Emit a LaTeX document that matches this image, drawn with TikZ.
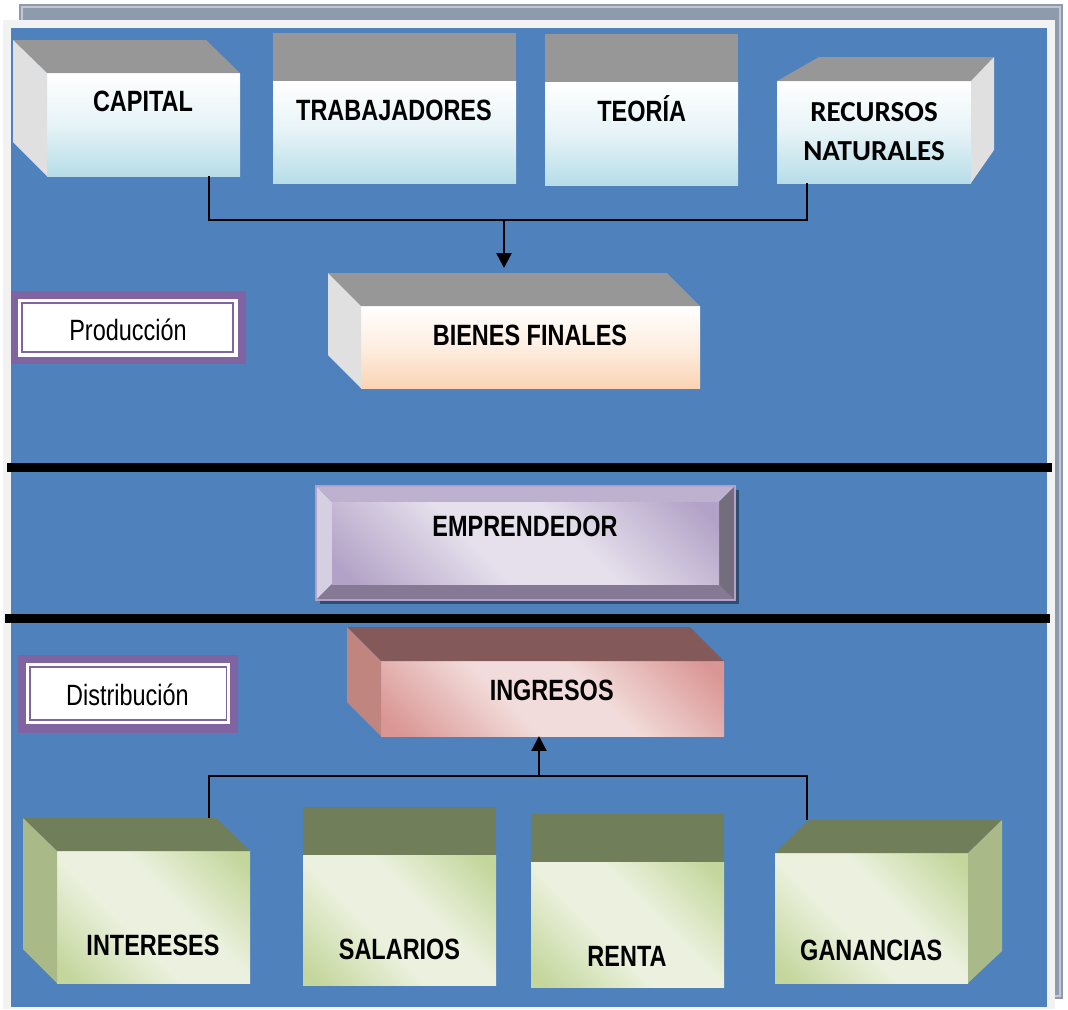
\documentclass[tikz,border=0pt]{standalone}
\usepackage{fontspec}
\setmainfont{Liberation Sans}
\newfontfamily\narrowsans[FakeStretch=0.8]{Liberation Sans}
\newfontfamily\calsans{Carlito}
\usetikzlibrary{arrows.meta}

\definecolor{bgblue}{HTML}{4F81BD}
\definecolor{framegray}{HTML}{F2F2F2}
\definecolor{shadowblue}{HTML}{8E9BAE}
\definecolor{cubetop}{HTML}{979797}
\definecolor{cubeside}{HTML}{E0E0E0}
\definecolor{iceblue}{HTML}{B7DDE8}
\definecolor{peach}{HTML}{FBD4B4}
\definecolor{tagpurple}{HTML}{8064A2}
\definecolor{olivetop}{HTML}{717E5A}
\definecolor{oliveside}{HTML}{A9BA88}
\definecolor{olivelight}{HTML}{EBF1DE}
\definecolor{olivedark}{HTML}{C3D69B}
\definecolor{rosetop}{HTML}{835A59}
\definecolor{roseside}{HTML}{C0857F}
\definecolor{roselight}{HTML}{F2DCDB}
\definecolor{rosedark}{HTML}{DA9694}
\definecolor{lilaclight}{HTML}{E5E0EC}
\definecolor{lilacdark}{HTML}{B3A2C7}

\pgfdeclarehorizontalshading{oliveband}{100bp}{color(0bp)=(olivedark); color(18bp)=(olivedark); color(42bp)=(olivelight); color(58bp)=(olivelight); color(82bp)=(olivedark); color(100bp)=(olivedark)}
\pgfdeclarehorizontalshading{roseband}{100bp}{color(0bp)=(rosedark); color(18bp)=(rosedark); color(42bp)=(roselight); color(58bp)=(roselight); color(82bp)=(rosedark); color(100bp)=(rosedark)}
\pgfdeclarehorizontalshading{lilacband}{100bp}{color(0bp)=(lilacdark); color(18bp)=(lilacdark); color(42bp)=(lilaclight); color(58bp)=(lilaclight); color(82bp)=(lilacdark); color(100bp)=(lilacdark)}

\begin{document}
\begin{tikzpicture}[x=0.02cm,y=-0.02cm,>={Triangle[length=8.5pt,width=8.5pt]},
    face/.style 2 args={inner sep=0pt,outer sep=0pt,minimum width=#1*0.02cm,minimum height=#2*0.02cm},
    icefront/.style={top color=white,bottom color=iceblue,middle color=iceblue!35!white},
    peachfront/.style={top color=white,bottom color=peach,middle color=peach!40!white},
    olivefront/.style={shade,shading=oliveband,shading angle=45},
    rosefront/.style={shade,shading=roseband,shading angle=45},
    lbl/.style={anchor=base,inner sep=0pt,font=\narrowsans\bfseries\fontsize{16.7}{20}\selectfont},
    tag/.style={anchor=base,inner sep=0pt,font=\narrowsans\fontsize{16.7}{20}\selectfont},
    conn/.style={line width=1.3pt},
    sep/.style={line width=5.1pt}]
    \useasboundingbox (0,0) rectangle (1068,1009);

    % frame
    \fill[shadowblue] (19,4) rectangle (1063,999);
    \draw[shadowblue!55!white,line width=0.6pt] (22,7) rectangle (1060,996);
    \fill[framegray] (3,20) rectangle (1055,1009);
    \fill[bgblue] (11,28) rectangle (1047,1007);

    % factores
    \node[face={193}{103},icefront] (capital) at (143.5,124.5) {};
    \fill[cubetop] (capital.north west) -- ++(-34,-33) -- ++(193,0) -- (capital.north east) -- cycle;
    \fill[cubeside] (capital.north west) -- ++(-34,-33) -- ++(0,102) -- (capital.south west) -- cycle;
    \node[lbl] (capitaltext) at (143,111.7) {CAPITAL};

    \node[face={243}{102},icefront] (trabajadores) at (394.5,132) {};
    \fill[cubetop] (trabajadores.north west) rectangle ++(243,-48);
    \node[lbl] (trabajadorestext) at (394,120) {TRABAJADORES};

    \node[face={193}{103},icefront] (teoria) at (641.5,133.5) {};
    \fill[cubetop] (teoria.north west) rectangle ++(193,-48);
    \node[lbl] (teoriatext) at (641.7,121) {TEORÍA};

    \node[face={194}{102},icefront] (recursos) at (874,132) {};
    \fill[cubetop] (recursos.north west) -- ++(42,-24) -- ++(175,0) -- (recursos.north east) -- cycle;
    \fill[cubeside] (recursos.north east) -- ++(23,-24) -- ++(0,93) -- (recursos.south east) -- cycle;
    \node[anchor=base,inner sep=0pt,align=center,font=\calsans\bfseries\fontsize{16.5}{22.5}\selectfont]
        (recursostext) at (874,160.7) {RECURSOS\\NATURALES};

    \node[face={339}{82},peachfront] (bienes) at (530.5,347) {};
    \fill[cubetop] (bienes.north west) -- ++(-33,-33) -- ++(339,0) -- (bienes.north east) -- cycle;
    \fill[cubeside] (bienes.north west) -- ++(-33,-33) -- ++(0,82) -- (bienes.south west) -- cycle;
    \node[lbl] (bienestext) at (530,345) {BIENES FINALES};

    \coordinate (upjoin) at (504,220);
    \coordinate (bienesin) at (504,268);
    \draw[conn] (capital.south -| 209,0) |- (upjoin) -| (recursos.south -| 807,0);
    \draw[conn,->] (upjoin) -- (bienesin);

    \fill[tagpurple] (11,291) rectangle (246,364);
    \fill[white] (18.3,299) rectangle (238.3,357);
    \draw[tagpurple,line width=1pt] (22.2,303) rectangle (233.3,352.2);
    \node[tag] (produccion) at (128,340.7) {Producción};

    % separadores
    \draw[sep] (7,467.5) -- (1052,467.5);
    \draw[sep] (5,618.5) -- (1050,618.5);

    % emprendedor
    \fill[bgblue!60!black] (320,490) rectangle (739,604);
    \fill[lilacdark!85!white] (316,486) -- (735,486) -- (719,502) -- (332,502) -- cycle;
    \fill[lilaclight!70!lilacdark] (316,486) -- (332,502) -- (332,584) -- (316,600) -- cycle;
    \fill[lilacdark!45!black!80] (735,486) -- (735,600) -- (719,584) -- (719,502) -- cycle;
    \fill[lilacdark!75!black] (316,600) -- (332,584) -- (719,584) -- (735,600) -- cycle;
    \node[face={387}{82},shade,shading=lilacband,shading angle=45] (emprendedor) at (525.5,543) {};
    \draw[lilacdark,line width=0.8pt] (316,486) rectangle (735,600);
    \node[lbl] (emprendedortext) at (525,536.7) {EMPRENDEDOR};

    % distribucion
    \node[face={343}{75},rosefront] (ingresos) at (552.5,698.5) {};
    \fill[rosetop] (ingresos.north west) -- ++(-34,-34) -- ++(343,0) -- (ingresos.north east) -- cycle;
    \fill[roseside] (ingresos.north west) -- ++(-34,-34) -- ++(0,75) -- (ingresos.south west) -- cycle;
    \node[lbl] (ingresostext) at (551.7,700) {INGRESOS};

    \fill[tagpurple] (18.3,655) rectangle (237.7,732.7);
    \fill[white] (26,662.7) rectangle (230,724.3);
    \draw[tagpurple,line width=1pt] (30.2,666.8) rectangle (226.5,720.2);
    \node[tag] (distribucion) at (127.5,705) {Distribución};

    \node[face={193}{132},olivefront] (intereses) at (153.5,917) {};
    \fill[olivetop] (intereses.north west) -- ++(-34,-33) -- ++(193,0) -- (intereses.north east) -- cycle;
    \fill[oliveside] (intereses.north west) -- ++(-34,-33) -- ++(0,131) -- (intereses.south west) -- cycle;
    \node[lbl] (interesestext) at (153,955) {INTERESES};

    \node[face={193}{130},olivefront] (salarios) at (399.5,920) {};
    \fill[olivetop] (salarios.north west) rectangle ++(193,-48);
    \node[lbl] (salariostext) at (399.5,959) {SALARIOS};

    \node[face={193}{125},olivefront] (renta) at (627.5,924.5) {};
    \fill[olivetop] (renta.north west) rectangle ++(193,-48);
    \node[lbl] (rentatext) at (627,966.7) {RENTA};

    \node[face={193}{130},olivefront] (ganancias) at (871.5,918) {};
    \fill[olivetop] (ganancias.north west) -- ++(34,-33) -- ++(193,0) -- (ganancias.north east) -- cycle;
    \fill[oliveside] (ganancias.north east) -- ++(34,-33) -- ++(0,131) -- (ganancias.south east) -- cycle;
    \node[lbl] (gananciastext) at (871.3,960) {GANANCIAS};

    \coordinate (downjoin) at (539,776);
    \coordinate (interesesin) at (209,818);
    \coordinate (gananciasin) at (807,820);
    \draw[conn] (interesesin) |- (downjoin) -| (gananciasin);
    \draw[conn,->] (downjoin) -- (ingresos.south -| downjoin);
\end{tikzpicture}
\end{document}
